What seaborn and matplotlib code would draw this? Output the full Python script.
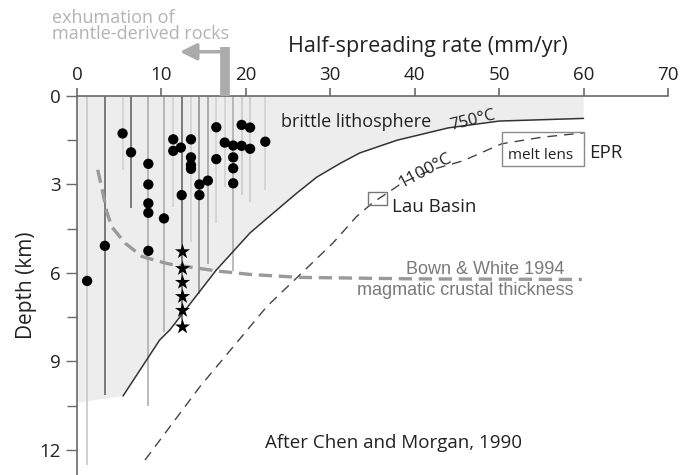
import numpy as np
import pandas as pd
import matplotlib
matplotlib.use("Agg")
import matplotlib.pyplot as plt
from matplotlib.patches import Polygon, Rectangle
import seaborn as sns

# --- seismic depth observations at slow ridges (spreading rate mm/yr, depth km)
dot_rate = [1.2, 3.3, 5.4, 6.4, 8.45, 8.45, 8.45, 8.45, 8.45, 10.3, 11.4, 11.4,
            12.3, 12.4, 13.5, 13.5, 13.5, 13.5, 14.5, 14.5, 15.5, 16.5, 16.5,
            17.5, 18.5, 18.5, 18.5, 18.5, 19.5, 19.5, 20.5, 20.5, 22.3]
dot_depth = [6.27, 5.08, 1.27, 1.91, 2.3, 3.0, 3.64, 3.96, 5.25, 4.15, 1.47, 1.86,
             1.75, 3.36, 1.47, 2.08, 2.34, 2.47, 3.0, 3.36, 2.87, 1.06, 2.14,
             1.58, 1.68, 2.08, 2.45, 2.96, 0.98, 1.69, 1.07, 1.79, 1.55]

star_rate = [12.5, 12.5, 12.5, 12.5, 12.5, 12.5]
star_depth = [5.28, 5.85, 6.32, 6.8, 7.27, 7.83]

# depth ranges of seismicity per site (rate, max depth, shade)
range_rate = [1.2, 3.3, 5.4, 6.4, 8.45, 10.3, 11.4, 12.4, 13.5, 14.5, 15.5,
              16.5, 17.5, 18.5, 19.5, 20.5, 22.3]
range_bottom = [12.5, 10.15, 2.5, 3.8, 10.5, 8.0, 3.75, 7.9, 4.95, 6.7, 5.7,
                4.3, 3.1, 5.95, 3.35, 3.6, 3.2]
range_shade = ["#c4c4c4", "#5a5a5a", "#cfcfcf", "#5a5a5a", "#a8a8a8", "#a8a8a8",
               "#cfcfcf", "#5a5a5a", "#cfcfcf", "#8a8a8a", "#9a9a9a", "#d0d0d0",
               "#cfcfcf", "#a8a8a8", "#c8c8c8", "#c8c8c8", "#d0d0d0"]

# 750 C isotherm (base of brittle lithosphere)
iso750_rate = [5.45, 9.8, 11.0, 16.5, 20.5, 22.5, 26.0, 28.4, 31.2, 33.5, 37.9,
               44.0, 50.0, 60.0]
iso750_depth = [10.17, 8.27, 7.93, 5.9, 4.64, 4.15, 3.3, 2.75, 2.28, 1.93, 1.5,
                1.08, 0.85, 0.76]

# 1100 C isotherm
iso1100_rate = [8.06, 14.57, 22.48, 30.33, 33.1, 35.1, 36.7, 38.5, 42.0, 45.7,
                50.3, 55.0, 60.0]
iso1100_depth = [12.34, 9.85, 7.14, 4.98, 4.09, 3.6, 3.3, 2.95, 2.5, 2.2,
                 1.62, 1.4, 1.25]

# magmatic crustal thickness (Bown & White 1994)
crust_rate = [2.45, 3.0, 3.5, 4.1, 5.7, 7.7, 9.6, 11.0, 16.5, 20.5, 26.4, 40.0, 59.8]
crust_depth = [2.5, 3.2, 3.9, 4.43, 4.99, 5.44, 5.6, 5.7, 5.93, 6.05, 6.15, 6.2, 6.22]

x_ticks = [0, 10, 20, 30, 40, 50, 60, 70]
y_ticks = [0, 3, 6, 9, 12]
y_minor = [1.5, 4.5, 7.5, 10.5]

sns.set_style("ticks")
plt.rcParams["font.family"] = ["Open Sans", "DejaVu Sans"]

W, H = 680, 475
fig = plt.figure(figsize=(W / 100, H / 100), dpi=100)
ax = fig.add_axes([77 / W, 0, 591 / W, 379 / H])
ax.set_xlim(0, 70)
ax.set_ylim(12.85, 0)

# brittle lithosphere region
poly = [(0, 0), (60, 0)] + list(zip(iso750_rate[::-1], iso750_depth[::-1])) + [(0, 10.4)]
ax.add_patch(Polygon(poly, closed=True, facecolor="#ededed", edgecolor="none", zorder=0))

# depth ranges
ax.vlines(range_rate, 0, range_bottom, colors=range_shade, linewidth=1.1, zorder=1)

# isotherms and crustal thickness curves
iso750 = pd.DataFrame({"rate": iso750_rate, "depth": iso750_depth})
iso1100 = pd.DataFrame({"rate": iso1100_rate, "depth": iso1100_depth})
crust = pd.DataFrame({"rate": crust_rate, "depth": crust_depth})
sns.lineplot(data=iso750, x="rate", y="depth", color="#333333", linewidth=1.1,
             sort=False, estimator=None, ax=ax, zorder=3)
sns.lineplot(data=iso1100, x="rate", y="depth", color="#444444", linewidth=1.0,
             sort=False, estimator=None, ax=ax, zorder=3, dashes=False,
             linestyle=(0, (7, 5)))
sns.lineplot(data=crust, x="rate", y="depth", color="#9a9a9a", linewidth=2.4,
             sort=False, estimator=None, ax=ax, zorder=2, linestyle=(0, (4, 2)))

# earthquake depths
dots = pd.DataFrame({"rate": dot_rate, "depth": dot_depth})
stars = pd.DataFrame({"rate": star_rate, "depth": star_depth})
sns.scatterplot(data=dots, x="rate", y="depth", color="black", s=55,
                edgecolor="none", ax=ax, zorder=4)
sns.scatterplot(data=stars, x="rate", y="depth", color="black", marker="*",
                s=130, edgecolor="none", ax=ax, zorder=4)

# melt lens (EPR) and Lau Basin boxes
ax.add_patch(Rectangle((50.3, 1.21), 9.7, 1.15, fill=False, edgecolor="#8a8a8a",
                       linewidth=1.0, zorder=3))
ax.add_patch(Rectangle((34.5, 3.24), 2.2, 0.45, fill=False, edgecolor="#777777",
                       linewidth=1.0, zorder=3))

# annotations
txt = "#222222"
ax.text(33.1, 0.87, "brittle lithosphere", fontsize=13, color=txt, ha="center", va="center")
ax.text(46.9, 0.82, "750°C", fontsize=12, color=txt, ha="center", va="center", rotation=14)
ax.text(41.2, 2.52, "1100°C", fontsize=12.5, color=txt, ha="center", va="center", rotation=28)
ax.text(54.9, 2.03, "melt lens", fontsize=11, color=txt, ha="center", va="center")
ax.text(60.7, 1.92, "EPR", fontsize=13.5, color=txt, ha="left", va="center")
ax.text(37.3, 3.75, "Lau Basin", fontsize=13.5, color=txt, ha="left", va="center")
ax.text(48.3, 5.87, "Bown & White 1994", fontsize=13, color="#7a7a7a",
        ha="center", va="center", family="Liberation Sans")
ax.text(46.0, 6.58, "magmatic crustal thickness", fontsize=13, color="#7a7a7a",
        ha="center", va="center", family="Liberation Sans")
ax.text(22.3, 11.77, "After Chen and Morgan, 1990", fontsize=13.5, color=txt,
        ha="left", va="center")

# exhumation marker above the axis
ax.plot([17.5, 17.5], [-1.67, 0], color="#ababab", linewidth=7,
        solid_capstyle="butt", clip_on=False, zorder=5)
ax.annotate("", xy=(12.2, -1.5), xytext=(17.0, -1.5), xycoords="data",
            annotation_clip=False,
            arrowprops=dict(arrowstyle="-|>,head_length=1.0,head_width=0.5",
                            color="#ababab", linewidth=2.5, shrinkA=0, shrinkB=0))
ax.text(-3.0, -2.36, "exhumation of\nmantle-derived rocks", fontsize=13,
        color="#b3b3b3", ha="left", va="center", linespacing=0.85, clip_on=False)

# axes styling
for side in ("bottom", "right"):
    ax.spines[side].set_visible(False)
for side in ("top", "left"):
    ax.spines[side].set_color("#6a6a6a")
    ax.spines[side].set_linewidth(1.2)
ax.xaxis.tick_top()
ax.set_xticks(x_ticks)
ax.set_yticks(y_ticks)
ax.set_yticks(y_minor, minor=True)
ax.tick_params(axis="x", which="major", length=6, width=1.2, color="#6a6a6a",
               labelsize=13.5, labelcolor="#222222", pad=3)
ax.tick_params(axis="y", which="major", length=8, width=1.0, color="#6a6a6a",
               labelsize=13.5, labelcolor="#222222", pad=4)
ax.tick_params(axis="y", which="minor", length=7, width=1.0, color="#6a6a6a")
ax.xaxis.set_label_position("top")
ax.set_xlabel("Half-spreading rate (mm/yr)", fontsize=15.5, color=txt)
ax.xaxis.set_label_coords(0.594, 1.115)
ax.set_ylabel("Depth (km)", fontsize=15, color=txt)
ax.yaxis.set_label_coords(-0.068, 0.5)

fig.savefig("out.png", dpi=100)
